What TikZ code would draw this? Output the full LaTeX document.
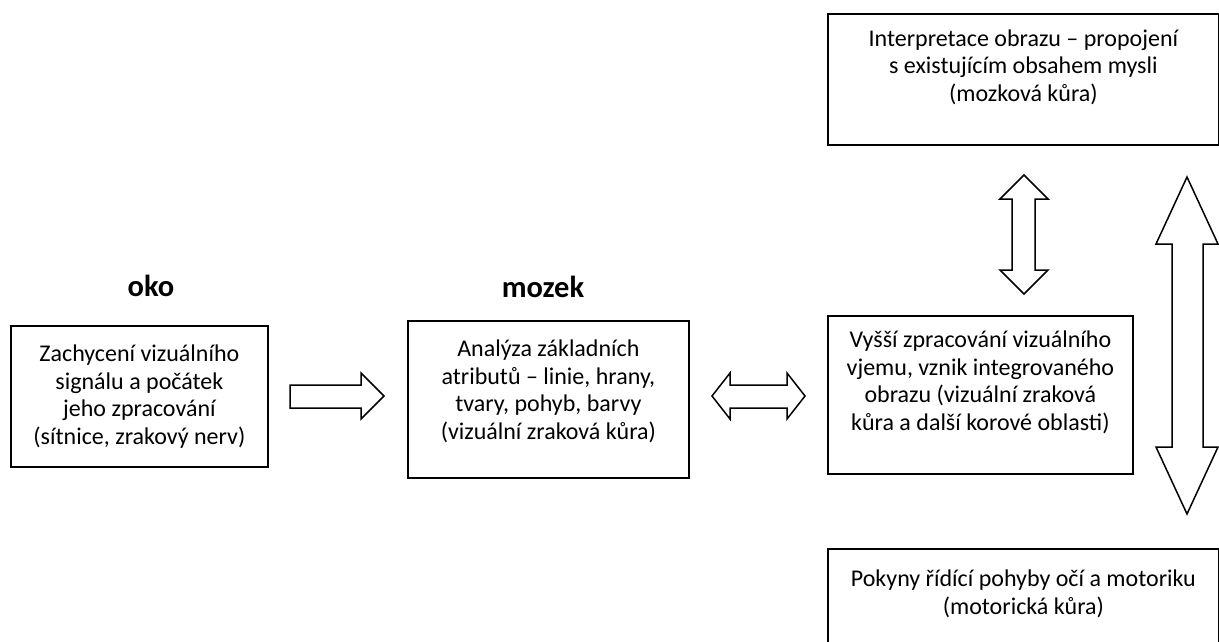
\documentclass[tikz,border=0pt]{standalone}
\usepackage{fontspec}
\setmainfont{Carlito}
\usepackage{tikz}
\usetikzlibrary{positioning}

\tikzset{
	stage/.style={draw, line width=1.8pt, inner sep=0pt, anchor=north west},
	stagetext/.style={align=center, inner sep=0pt, anchor=north,
		font=\fontsize{24}{27.5}\selectfont, execute at begin node={\rule{0pt}{20pt}}},
	heading/.style={font=\fontsize{30.5}{36}\selectfont\bfseries, anchor=base, inner sep=0pt},
	blockarrow/.style={draw, line width=1.5pt, line join=miter, fill=white}
}

\begin{document}
\begin{tikzpicture}[x=1pt, y=-1pt]
	\clip (0,0) rectangle (1219,642);
	\fill[white] (0,0) rectangle (1219,642);

	% boxes
	\node[stage, minimum width=257pt, minimum height=141pt] (eye) at (10,325) {};
	\node[stage, minimum width=281pt, minimum height=157pt] (basic) at (407,320) {};
	\node[stage, minimum width=305pt, minimum height=158pt] (higher) at (827,315) {};
	\node[stage, minimum width=391pt, minimum height=131pt] (interp) at (827,13) {};
	\node[stage, minimum width=391pt, minimum height=131pt] (motor) at (827,548) {};

	\node[stagetext] (eyetxt) at ([yshift=-20pt]eye.north) {Zachycení vizuálního\\signálu a počátek\\jeho zpracování\\(sítnice, zrakový nerv)};
	\node[stagetext] (basictxt) at ([yshift=-20pt]basic.north) {Analýza základních\\atributů – linie, hrany,\\tvary, pohyb, barvy\\(vizuální zraková kůra)};
	\node[stagetext] (highertxt) at ([yshift=-16pt]higher.north) {Vyšší zpracování vizuálního\\vjemu, vznik integrovaného\\obrazu (vizuální zraková\\kůra a další korové oblasti)};
	\node[stagetext] (interptxt) at ([yshift=-16.5pt]interp.north) {Interpretace obrazu – propojení\\s existujícím obsahem mysli\\(mozková kůra)};
	\node[stagetext] (motortxt) at ([yshift=-22pt]motor.north) {Pokyny řídící pohyby očí a motoriku\\(motorická kůra)};

	% headings
	\node[heading] (eyehead) at (151,296) {oko};
	\node[heading] (brainhead) at (543,297) {mozek};

	% block arrows
	\draw[blockarrow] (290,385) -- (361,385) -- (361,373) -- (384,396) -- (361,419) -- (361,408) -- (290,408) -- cycle;
	\draw[blockarrow] (712,396) -- (730,373) -- (730,385) -- (787,385) -- (787,373) -- (805,396)
		-- (787,419) -- (787,408) -- (730,408) -- (730,419) -- cycle;
	\draw[blockarrow] (1024,175) -- (1048,199) -- (1035,199) -- (1035,270) -- (1048,270) -- (1024,294)
		-- (1000,270) -- (1012,270) -- (1012,199) -- (1000,199) -- cycle;
	\draw[blockarrow] (1187,177) -- (1218,244) -- (1203,244) -- (1203,447) -- (1218,447) -- (1187,514)
		-- (1156,447) -- (1172,447) -- (1172,244) -- (1156,244) -- cycle;
\end{tikzpicture}
\end{document}
